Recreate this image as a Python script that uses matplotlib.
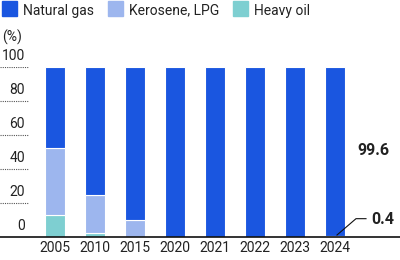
import matplotlib.pyplot as plt
import numpy as np

plt.rcParams['font.family'] = ['Roboto', 'DejaVu Sans']

years = ['2005', '2010', '2015', '2020', '2021', '2022', '2023', '2024']
heavy_oil = [13.0, 2.3, 0.0, 0.0, 0.0, 0.0, 0.0, 0.0]
kerosene_lpg = [39.0, 22.0, 9.6, 0.0, 0.0, 0.0, 0.0, 0.4]
natural_gas = [48.0, 75.7, 90.4, 100.0, 100.0, 100.0, 100.0, 99.6]
yticks = [0, 20, 40, 60, 80, 100]

c_gas = '#1a56e0'
c_ker = '#9db6ee'
c_oil = '#7ecfd1'
txt = '#222222'

fig = plt.figure(figsize=(4, 2.6), dpi=100)
ax = fig.add_axes([0, 23.3 / 260, 1, 170 / 260])

x = np.arange(len(years))
ax.bar(x, heavy_oil, width=0.5, color=c_oil, edgecolor='white', linewidth=0.8)
ax.bar(x, kerosene_lpg, width=0.5, bottom=heavy_oil, color=c_ker, edgecolor='white', linewidth=0.8)
bot = np.array(heavy_oil) + np.array(kerosene_lpg)
ax.bar(x, natural_gas, width=0.5, bottom=bot, color=c_gas, edgecolor='white', linewidth=0.8)

ax.set_xlim(-55 / 40, 345 / 40)
ax.set_ylim(0, 100)
for s in ax.spines.values():
    s.set_visible(False)
ax.axhline(0, color='#111111', lw=1.2, clip_on=False)
ax.set_xticks([])
ax.set_yticks([])

# short dotted grid lines with labels sitting above them
for v in yticks:
    if v > 0:
        ax.axhline(v, xmin=0, xmax=28 / 400, color='#555555', lw=0.8, ls=(0, (1, 1)))
    ax.text(25 / 400, v + 6.3, str(v), transform=ax.get_yaxis_transform(),
            ha='right', va='center', fontsize=10, color=txt, clip_on=False)
ax.text(2 / 400, 117, '(%)', transform=ax.get_yaxis_transform(),
        ha='left', va='center', fontsize=10, color=txt, clip_on=False)

for i, y in enumerate(years):
    ax.text(i, -6.4, y, ha='center', va='center', fontsize=10, color=txt, clip_on=False)

# value labels for 2024
ax.text(7.95, 50.7, f'{natural_gas[-1]:.1f}', ha='center', va='center',
        fontsize=11.5, fontweight='bold', color=txt)
ax.plot([7.05, 7.525, 7.775], [1, 10.6, 10.6], color='#111111', lw=0.8, clip_on=False)
ax.text(7.9, 10.4, f'{kerosene_lpg[-1]:.1f}', ha='left', va='center',
        fontsize=11.5, fontweight='bold', color=txt)

# legend
lx = [2, 108, 233]
names = ['Natural gas', 'Kerosene, LPG', 'Heavy oil']
cols = [c_gas, c_ker, c_oil]
for px, n, c in zip(lx, names, cols):
    fig.patches.append(plt.Rectangle((px / 400, 1 - 16 / 260), 15 / 400, 15 / 260,
                                     transform=fig.transFigure, color=c))
    fig.text((px + 21) / 400, 1 - 10.5 / 260, n, ha='left', va='center', fontsize=10, color=txt)

fig.savefig('out.png', dpi=100)
